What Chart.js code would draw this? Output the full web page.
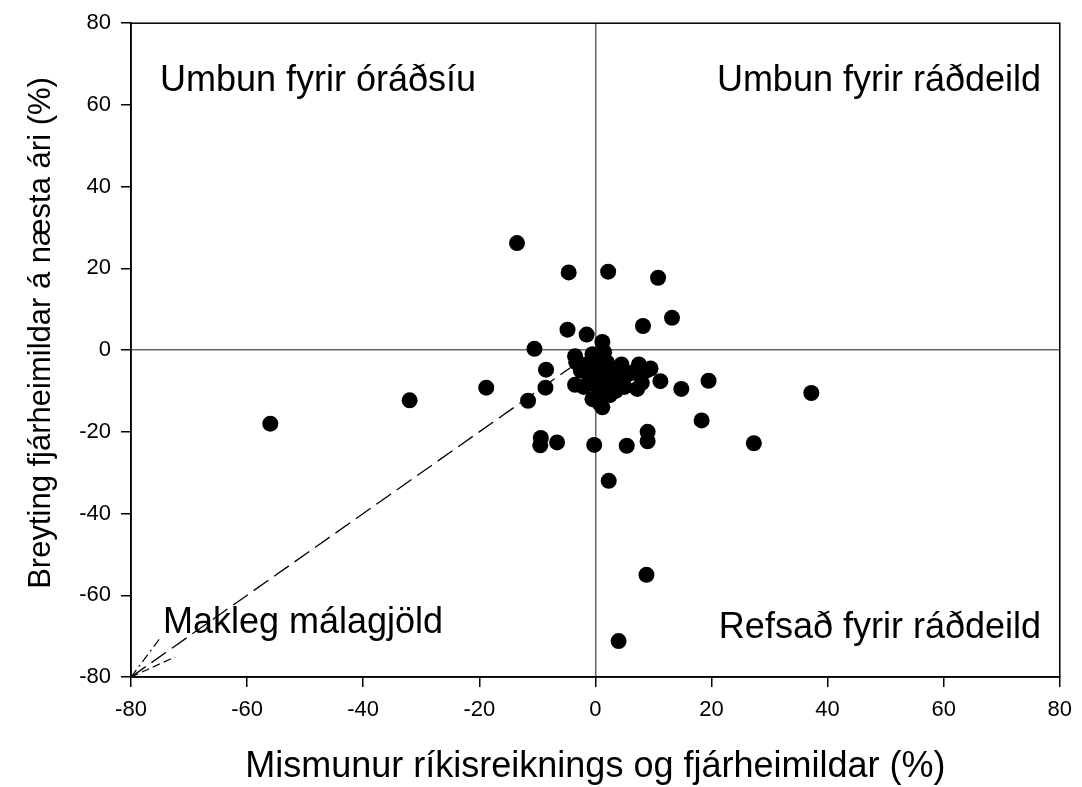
<!DOCTYPE html>
<html lang="is">
  <head>
    <meta charset="UTF-8" />
    <title>Mismunur og breyting fjárheimilda</title>
    <script src="https://cdn.jsdelivr.net/npm/chart.js"></script>
    <style>
      body {
        margin: 0;
        background: #fff;
      }
      .chart-box {
        width: 1082px;
        height: 787px;
      }
    </style>
  </head>
  <body>
    <div class="chart-box">
      <canvas id="myChart" width="1082" height="787"></canvas>
    </div>
    <script>
      // gögn lesin af myndinni
      const mismunur = [
        -56, -32, -18.8, -13.5, -11.6, -10.5, -9.4, -9.5, -8.5, -8.6, -6.6, -4.6, -4.8, -1.5, -0.2, 2.2, 1.2,
        2.3, 4, 5.4, 8.2, 8.8, 9, 9, 10.8, 11.2, 13.2, 14.8, 18.3, 19.5, 27.3, 37.2,
        -3.5, -3.3, -3.5, -2.5, -1.5, -1, -0.5, 0, 0.3, 0.5, 0.7, 1.2, 1.5, 1.5, 2, 2.5, 3, 3.5, 4, 5,
        5.5, 6.5, 7.2, 7.5, 8, 8.8, 9.5, 4.5, -2, 1, 2.5, -0.5,
      ];
      const breyting = [
        -18, -12.3, -9.2, 26.2, -12.4, 0.3, -21.5, -23.3, -4.8, -9.2, -22.6, 19, 5, 3.8, -23.2, 19.2, 2,
        -32, -71.2, -23.4, 5.9, -55, -20, -22.3, 17.7, -7.6, 7.9, -9.5, -17.2, -7.5, -22.8, -10.5,
        -1.5, -3, -8.5, -5, -3.5, -7, -1, -4, -9, -11, -13, -14, -0.5, -6, -3, -8, -5, -10, -7, -9,
        -6, -5.5, -9.5, -3.5, -8, -5, -4.5, -3.5, -9, -1.5, -11, -12,
      ];
      const linaX = [-80, -3];
      const linaY = [-80, -3];
      const orX1 = [-80, -75];
      const orY1 = [-80, -70.5];
      const orX2 = [-80, -72.4];
      const orY2 = [-80, -75.1];
      const fjordungar = ["Umbun fyrir óráðsíu", "Umbun fyrir ráðdeild", "Makleg málagjöld", "Refsað fyrir ráðdeild"];
      const xTitill = "Mismunur ríkisreiknings og fjárheimildar (%)";
      const yTitill = "Breyting fjárheimildar á næsta ári (%)";

      const font = "'Liberation Sans', Arial, sans-serif";
      const toPoints = (xs, ys) => xs.map((x, i) => ({ x: x, y: ys[i] }));

      const textPlugin = {
        id: "texti",
        afterDraw(chart) {
          const c = chart.ctx;
          const a = chart.chartArea;
          c.save();
          c.strokeStyle = "#000";
          c.lineWidth = 1.5;
          c.strokeRect(a.left, a.top, a.right - a.left, a.bottom - a.top);
          c.fillStyle = "#000";
          c.font = "36px " + font;
          c.textBaseline = "middle";
          c.textAlign = "left";
          c.fillText(fjordungar[0], 160, 81);
          c.fillText(fjordungar[2], 163, 623);
          c.textAlign = "right";
          c.fillText(fjordungar[1], 1041, 81);
          c.fillText(fjordungar[3], 1041, 628);
          c.textAlign = "center";
          c.fillText(xTitill, (a.left + a.right) / 2, 767);
          c.font = "31px " + font;
          c.translate(41, 333);
          c.rotate(-Math.PI / 2);
          c.fillText(yTitill, 0, 0);
          c.restore();
        },
      };

      const ctx = document.getElementById("myChart");
      const myChart = new Chart(ctx, {
        type: "scatter",
        data: {
          datasets: [
            {
              type: "line",
              data: toPoints(linaX, linaY),
              borderColor: "#000",
              borderWidth: 1.3,
              borderDash: [18, 7],
              pointRadius: 0,
            },
            {
              type: "line",
              data: toPoints(orX1, orY1),
              borderColor: "#000",
              borderWidth: 1.2,
              borderDash: [9, 4, 2, 4],
              pointRadius: 0,
            },
            {
              type: "line",
              data: toPoints(orX2, orY2),
              borderColor: "#000",
              borderWidth: 1.2,
              borderDash: [8, 4],
              pointRadius: 0,
            },
            {
              data: toPoints(mismunur, breyting),
              backgroundColor: "#000",
              borderWidth: 0,
              pointRadius: 8,
              pointHoverRadius: 8,
            },
          ],
        },
        options: {
          responsive: false,
          animation: false,
          layout: {
            padding: { top: 22, right: 20, left: 0, bottom: 0 },
          },
          plugins: {
            legend: { display: false },
            tooltip: { enabled: false },
          },
          scales: {
            x: {
              min: -80,
              max: 80,
              afterFit(scale) {
                scale.height = 110;
              },
              ticks: {
                stepSize: 20,
                color: "#000",
                padding: 10,
                maxRotation: 0,
                font: { family: font, size: 22 },
              },
              grid: {
                color: (c) => (c.tick && c.tick.value === 0 ? "#666" : "transparent"),
                lineWidth: 1.5,
                tickColor: "#000",
                tickLength: 10,
              },
              border: { color: "#000", width: 1.5 },
            },
            y: {
              min: -80,
              max: 80,
              afterFit(scale) {
                scale.width = 131;
              },
              ticks: {
                stepSize: 20,
                color: "#000",
                padding: 10,
                font: { family: font, size: 22 },
              },
              grid: {
                color: (c) => (c.tick && c.tick.value === 0 ? "#666" : "transparent"),
                lineWidth: 1.5,
                tickColor: "#000",
                tickLength: 10,
              },
              border: { color: "#000", width: 1.5 },
            },
          },
        },
        plugins: [textPlugin],
      });
    </script>
  </body>
</html>
